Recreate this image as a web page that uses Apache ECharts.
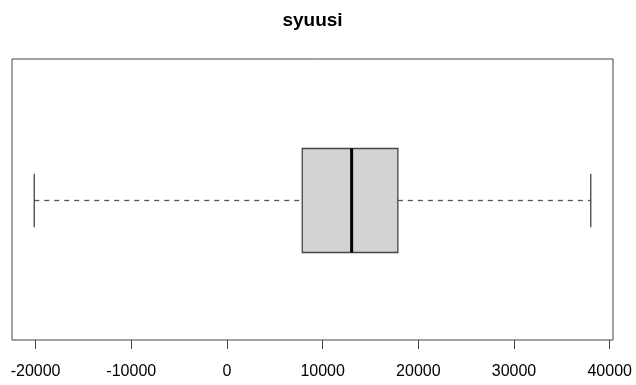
<!DOCTYPE html>
<html>
<head>
<meta charset="utf-8">
<script src="https://cdn.jsdelivr.net/npm/echarts@6/dist/echarts.min.js"></script>
<style>
html,body{margin:0;padding:0;background:#fff;}
#chart{width:636px;height:385px;}
</style>
</head>
<body>
<div id="chart"></div>
<script>
// ---- data ----
var titleText = 'syuusi';
var categories = ['syuusi'];
var whiskerLow = [-20140];
var q1Values = [7870];
var medianValues = [13030];
var q3Values = [17860];
var whiskerHigh = [38020];
var tickValues = [-20000, -10000, 0, 10000, 20000, 30000, 40000];
var axisMin = -22464;
var axisMax = 40344;

var seriesData = categories.map(function (c, i) {
  return [whiskerLow[i], q1Values[i], medianValues[i], q3Values[i], whiskerHigh[i], i];
});

var chart = echarts.init(document.getElementById('chart'), null, {renderer: 'canvas'});

function renderBox(params, api) {
  var lo = api.value(0), q1 = api.value(1), md = api.value(2), q3 = api.value(3), hi = api.value(4);
  var cat = api.value(5);
  var band = api.size([0, 1])[1];
  var pLo = api.coord([lo, cat]);
  var pQ1 = api.coord([q1, cat]);
  var pMd = api.coord([md, cat]);
  var pQ3 = api.coord([q3, cat]);
  var pHi = api.coord([hi, cat]);
  var cy = Math.round(pLo[1]) + 0.5;
  var bh = band * 0.37;
  var ch = band * 0.19;
  var lineCol = '#444';
  return {
    type: 'group',
    children: [
      {type: 'line', shape: {x1: pLo[0], y1: cy, x2: pQ1[0], y2: cy},
        style: {stroke: '#555', lineWidth: 1.3, lineDash: [5, 5]}},
      {type: 'line', shape: {x1: pQ3[0], y1: cy, x2: pHi[0], y2: cy},
        style: {stroke: '#555', lineWidth: 1.3, lineDash: [5, 5]}},
      {type: 'line', shape: {x1: pLo[0], y1: cy - ch / 2, x2: pLo[0], y2: cy + ch / 2},
        style: {stroke: lineCol, lineWidth: 1.3}},
      {type: 'line', shape: {x1: pHi[0], y1: cy - ch / 2, x2: pHi[0], y2: cy + ch / 2},
        style: {stroke: lineCol, lineWidth: 1.3}},
      {type: 'rect', shape: {x: pQ1[0], y: cy - bh / 2, width: pQ3[0] - pQ1[0], height: bh},
        style: {fill: '#d3d3d3', stroke: lineCol, lineWidth: 1.3}},
      {type: 'line', shape: {x1: pMd[0], y1: cy - bh / 2, x2: pMd[0], y2: cy + bh / 2},
        style: {stroke: '#000', lineWidth: 3}}
    ]
  };
}

chart.setOption({
  animation: false,
  backgroundColor: '#fff',
  textStyle: {fontFamily: 'Liberation Sans, Arial, sans-serif'},
  graphic: [{
    type: 'text',
    x: 312.5,
    y: 21,
    style: {
      text: titleText,
      fontFamily: 'Liberation Sans, Arial, sans-serif',
      fontWeight: 'bold',
      fontSize: 19,
      fill: '#000',
      textAlign: 'center',
      textVerticalAlign: 'middle'
    }
  }],
  grid: {
    left: 12, right: 23, top: 59, bottom: 45,
    show: true, borderColor: '#444', borderWidth: 1, backgroundColor: 'transparent'
  },
  xAxis: {
    type: 'value',
    min: axisMin,
    max: axisMax,
    splitLine: {show: false},
    axisLine: {show: false},
    axisTick: {show: true, customValues: tickValues, length: 9, lineStyle: {color: '#444', width: 1}},
    axisLabel: {
      customValues: tickValues,
      formatter: function (v) { return String(v); },
      margin: 24,
      fontSize: 16,
      color: '#000',
      fontFamily: 'Liberation Sans, Arial, sans-serif',
      showMinLabel: true,
      showMaxLabel: true
    }
  },
  yAxis: {
    type: 'category',
    data: categories,
    show: false
  },
  series: [{
    type: 'custom',
    renderItem: renderBox,
    encode: {x: [0, 1, 2, 3, 4], y: 5},
    data: seriesData,
    clip: false
  }]
});
</script>
</body>
</html>
